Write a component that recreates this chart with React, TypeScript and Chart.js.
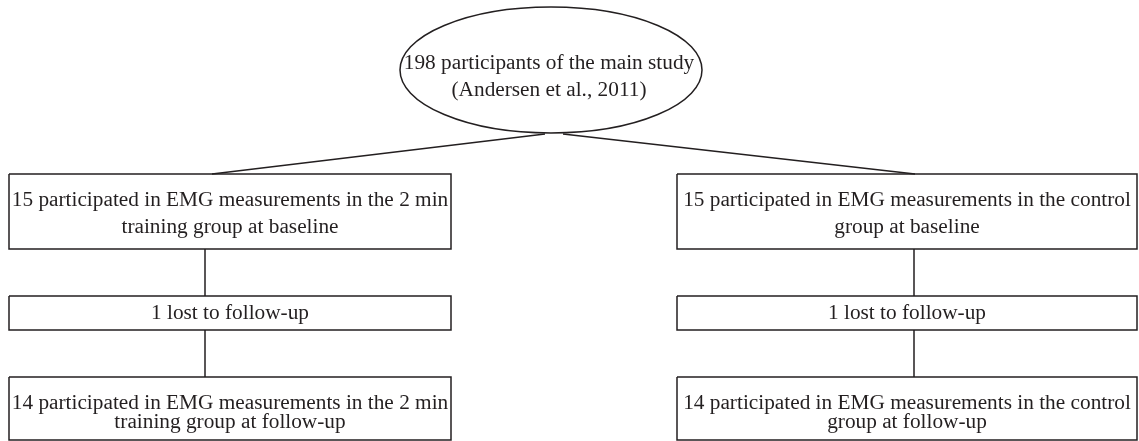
import React, { useEffect, useRef } from "react";
import { Chart, registerables } from "chart.js";
Chart.register(...registerables);

// Flowchart nodes (in diagram units, x: 0..1139, y: 0..441 top-down)
const boxLeft = [9, 677, 9, 677, 9, 677];
const boxRight = [451, 1137, 451, 1137, 451, 1137];
const boxTop = [174, 174, 296, 296, 377, 377];
const boxBottom = [249, 249, 330, 330, 440, 440];
const boxTextCenterY = [213.5, 213.5, 313, 313, 413, 413];
const boxLineGap = [27, 27, 0, 0, 19, 19];
const boxLabels: string[][] = [
  ["15 participated in EMG measurements in the 2 min", "training group at baseline"],
  ["15 participated in EMG measurements in the control", "group at baseline"],
  ["1 lost to follow-up"],
  ["1 lost to follow-up"],
  ["14 participated in EMG measurements in the 2 min", "training group at follow-up"],
  ["14 participated in EMG measurements in the control", "group at follow-up"],
];

const ellipseCenter = [551, 70];
const ellipseRadii = [151, 63];
const ellipseLabels = ["198 participants of the main study", "(Andersen et al., 2011)"];
const ellipseTextY = [63, 90];
const ellipseTextX = 549;

// connectors: [x0, y0, x1, y1]
const connectors = [
  [545, 134, 212, 174],
  [563, 134, 915, 174],
  [205, 249, 205, 296],
  [205, 330, 205, 377],
  [914, 249, 914, 296],
  [914, 330, 914, 377],
];

const FONT = "21.3px 'Liberation Serif', 'Times New Roman', serif";
const INK = "#231f20";

export default function App() {
  const ref = useRef<HTMLCanvasElement | null>(null);
  useEffect(() => {
    const canvas = ref.current;
    if (!canvas) return;
    const datasets: any[] = [];
    boxLeft.forEach((x0, i) => {
      const x1 = boxRight[i];
      const y0 = boxTop[i];
      const y1 = boxBottom[i];
      datasets.push({
        type: "line",
        data: [
          { x: x0, y: y0 },
          { x: x1, y: y0 },
          { x: x1, y: y1 },
          { x: x0, y: y1 },
          { x: x0, y: y0 },
        ],
        borderColor: INK,
        borderWidth: 1.5,
        pointRadius: 0,
        fill: false,
        tension: 0,
      });
    });
    connectors.forEach((c) => {
      datasets.push({
        type: "line",
        data: [
          { x: c[0], y: c[1] },
          { x: c[2], y: c[3] },
        ],
        borderColor: INK,
        borderWidth: 1.5,
        pointRadius: 0,
        fill: false,
      });
    });

    const diagramPlugin = {
      id: "diagram",
      afterDatasetsDraw(chart: any) {
        const ctx = chart.ctx;
        const sx = chart.scales.x;
        const sy = chart.scales.y;
        ctx.save();
        const cx = sx.getPixelForValue(ellipseCenter[0]);
        const cy = sy.getPixelForValue(ellipseCenter[1]);
        const rx = Math.abs(sx.getPixelForValue(ellipseCenter[0] + ellipseRadii[0]) - cx);
        const ry = Math.abs(sy.getPixelForValue(ellipseCenter[1] + ellipseRadii[1]) - cy);
        ctx.beginPath();
        ctx.ellipse(cx, cy, rx, ry, 0, 0, Math.PI * 2);
        ctx.strokeStyle = INK;
        ctx.lineWidth = 1.5;
        ctx.stroke();
        ctx.fillStyle = INK;
        ctx.font = FONT;
        ctx.textAlign = "center";
        ctx.textBaseline = "middle";
        ellipseLabels.forEach((t, i) => {
          ctx.fillText(t, sx.getPixelForValue(ellipseTextX), sy.getPixelForValue(ellipseTextY[i]));
        });
        boxLabels.forEach((lines, i) => {
          const mx = sx.getPixelForValue((boxLeft[i] + boxRight[i]) / 2);
          const n = lines.length;
          lines.forEach((t, j) => {
            const yv = boxTextCenterY[i] + (j - (n - 1) / 2) * boxLineGap[i];
            ctx.fillText(t, mx, sy.getPixelForValue(yv));
          });
        });
        ctx.restore();
      },
    };

    const chart = new Chart(canvas, {
      type: "scatter",
      data: { datasets },
      options: {
        animation: false,
        responsive: false,
        devicePixelRatio: 1,
        layout: { padding: 0 },
        plugins: { legend: { display: false }, tooltip: { enabled: false } },
        events: [],
        scales: {
          x: { type: "linear", min: 0, max: 1139, display: false },
          y: { type: "linear", min: 0, max: 441, reverse: true, display: false },
        },
      },
      plugins: [diagramPlugin],
    });
    return () => chart.destroy();
  }, []);
  return (
    <div style={{ position: "fixed", left: 0, top: 0, width: 1139, height: 441, background: "#fff" }}>
      <canvas ref={ref} width={1139} height={441} style={{ width: 1139, height: 441 }} />
    </div>
  );
}
